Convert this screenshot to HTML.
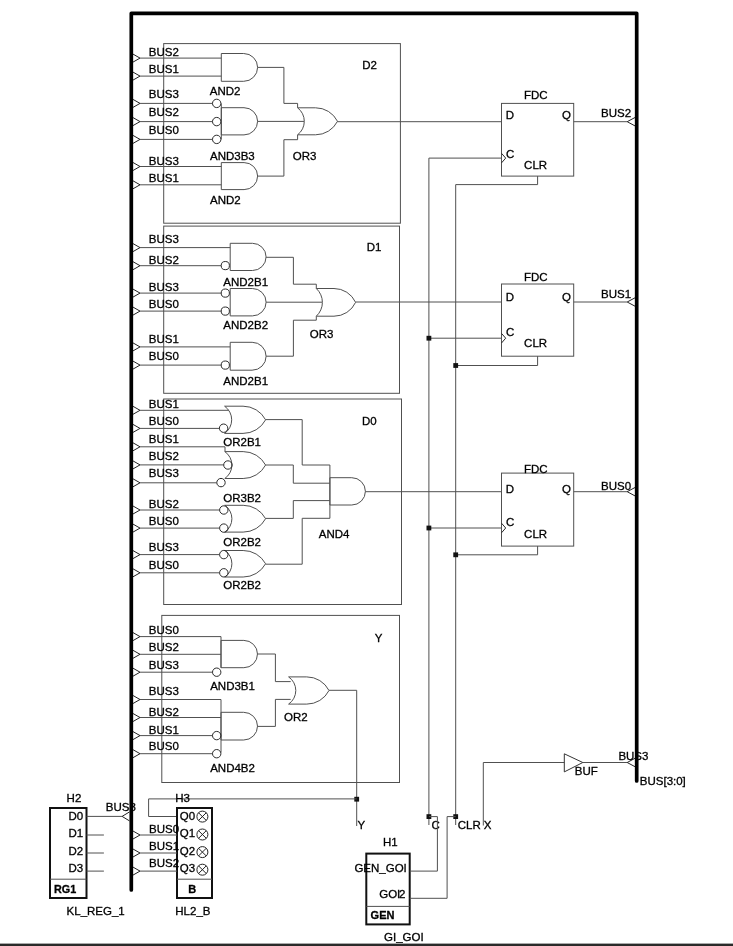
<!DOCTYPE html>
<html><head><meta charset="utf-8"><style>
html,body{margin:0;padding:0;background:#fff;}
body{width:733px;height:946px;overflow:hidden;}
svg{display:block;will-change:transform;}
text{font-family:"Liberation Sans", sans-serif;stroke:#000;stroke-width:0.3px;}
</style></head><body>
<svg width="733" height="946" viewBox="0 0 733 946">
<rect x="0" y="0" width="733" height="946" fill="#fff"/>
<path d="M131.3,890 L131.3,13.3 L636.7,13.3 L636.7,781" fill="none" stroke="#000" stroke-width="3.7" stroke-linecap="round" stroke-linejoin="round"/>
<rect x="163.70" y="43.60" width="236.70" height="179.60" fill="none" stroke="#505050" stroke-width="1.0"/>
<rect x="163.70" y="226.10" width="235.80" height="167.20" fill="none" stroke="#505050" stroke-width="1.0"/>
<rect x="163.70" y="399.00" width="237.80" height="205.50" fill="none" stroke="#505050" stroke-width="1.0"/>
<rect x="161.80" y="615.40" width="237.70" height="167.10" fill="none" stroke="#505050" stroke-width="1.0"/>
<text x="362.20" y="69.00" font-size="11.5" fill="#000">D2</text>
<text x="366.80" y="250.50" font-size="11.5" fill="#000">D1</text>
<text x="362.00" y="425.40" font-size="11.5" fill="#000">D0</text>
<text x="374.80" y="641.60" font-size="11.5" fill="#000">Y</text>
<path d="M133.00,54.10 L140.00,58.10 L133.00,62.10" fill="none" stroke="#222" stroke-width="1.0"/>
<path d="M140.00,58.10 L221.30,58.10" fill="none" stroke="#505050" stroke-width="1.0"/>
<text x="148.80" y="55.70" font-size="11.5" fill="#000">BUS2</text>
<path d="M133.00,72.10 L140.00,76.10 L133.00,80.10" fill="none" stroke="#222" stroke-width="1.0"/>
<path d="M140.00,76.10 L221.30,76.10" fill="none" stroke="#505050" stroke-width="1.0"/>
<text x="148.80" y="73.40" font-size="11.5" fill="#000">BUS1</text>
<path d="M133.00,99.40 L140.00,103.40 L133.00,107.40" fill="none" stroke="#222" stroke-width="1.0"/>
<path d="M140.00,103.40 L212.40,103.40" fill="none" stroke="#505050" stroke-width="1.0"/>
<text x="148.80" y="98.30" font-size="11.5" fill="#000">BUS3</text>
<path d="M133.00,117.60 L140.00,121.60 L133.00,125.60" fill="none" stroke="#222" stroke-width="1.0"/>
<path d="M140.00,121.60 L212.40,121.60" fill="none" stroke="#505050" stroke-width="1.0"/>
<text x="148.80" y="116.30" font-size="11.5" fill="#000">BUS2</text>
<path d="M133.00,135.40 L140.00,139.40 L133.00,143.40" fill="none" stroke="#222" stroke-width="1.0"/>
<path d="M140.00,139.40 L212.40,139.40" fill="none" stroke="#505050" stroke-width="1.0"/>
<text x="148.80" y="133.80" font-size="11.5" fill="#000">BUS0</text>
<path d="M133.00,162.50 L140.00,166.50 L133.00,170.50" fill="none" stroke="#222" stroke-width="1.0"/>
<path d="M140.00,166.50 L221.30,166.50" fill="none" stroke="#505050" stroke-width="1.0"/>
<text x="148.80" y="164.90" font-size="11.5" fill="#000">BUS3</text>
<path d="M133.00,180.80 L140.00,184.80 L133.00,188.80" fill="none" stroke="#222" stroke-width="1.0"/>
<path d="M140.00,184.80 L221.30,184.80" fill="none" stroke="#505050" stroke-width="1.0"/>
<text x="148.80" y="182.10" font-size="11.5" fill="#000">BUS1</text>
<path d="M221.30,53.50 L243.70,53.50 A13.90,13.90 0 0 1 243.70,81.30 L221.30,81.30 Z" fill="none" stroke="#505050" stroke-width="1.0"/>
<path d="M221.30,107.70 L244.00,107.70 A13.60,13.60 0 0 1 244.00,134.90 L221.30,134.90 Z" fill="none" stroke="#505050" stroke-width="1.0"/>
<circle cx="216.70" cy="103.40" r="4.20" fill="none" stroke="#2a2a2a" stroke-width="1.0"/>
<circle cx="216.70" cy="121.60" r="4.20" fill="none" stroke="#2a2a2a" stroke-width="1.0"/>
<circle cx="216.70" cy="139.40" r="4.20" fill="none" stroke="#2a2a2a" stroke-width="1.0"/>
<path d="M221.30,103.40 L221.30,139.40" fill="none" stroke="#505050" stroke-width="1.0"/>
<path d="M221.30,162.60 L244.10,162.60 A13.50,13.50 0 0 1 244.10,189.60 L221.30,189.60 Z" fill="none" stroke="#505050" stroke-width="1.0"/>
<text x="209.80" y="94.50" font-size="11.5" fill="#000">AND2</text>
<text x="210.00" y="160.00" font-size="11.5" fill="#000">AND3B3</text>
<text x="210.00" y="203.60" font-size="11.5" fill="#000">AND2</text>
<path d="M257.60,67.40 L283.90,67.40 L283.90,103.40 L297.60,103.40 L297.60,107.80" fill="none" stroke="#505050" stroke-width="1.0"/>
<path d="M257.60,121.40 L304.00,121.40" fill="none" stroke="#505050" stroke-width="1.0"/>
<path d="M257.60,176.10 L283.90,176.10 L283.90,139.70 L297.60,139.70 L297.60,134.80" fill="none" stroke="#505050" stroke-width="1.0"/>
<path d="M297.60,107.80 L315.56,107.80 A24.59,24.59 0 0 1 337.50,121.30 A24.59,24.59 0 0 1 315.56,134.80 L297.60,134.80 A16.95,16.95 0 0 0 297.60,107.80 Z" fill="none" stroke="#505050" stroke-width="1.0"/>
<text x="292.80" y="159.70" font-size="11.5" fill="#000">OR3</text>
<path d="M337.30,121.70 L501.50,121.70" fill="none" stroke="#505050" stroke-width="1.0"/>
<path d="M133.00,243.60 L140.00,247.60 L133.00,251.60" fill="none" stroke="#222" stroke-width="1.0"/>
<path d="M140.00,247.60 L230.20,247.60" fill="none" stroke="#505050" stroke-width="1.0"/>
<text x="148.80" y="243.00" font-size="11.5" fill="#000">BUS3</text>
<path d="M133.00,261.70 L140.00,265.70 L133.00,269.70" fill="none" stroke="#222" stroke-width="1.0"/>
<path d="M140.00,265.70 L221.20,265.70" fill="none" stroke="#505050" stroke-width="1.0"/>
<text x="148.80" y="263.70" font-size="11.5" fill="#000">BUS2</text>
<path d="M133.00,289.10 L140.00,293.10 L133.00,297.10" fill="none" stroke="#222" stroke-width="1.0"/>
<path d="M140.00,293.10 L221.20,293.10" fill="none" stroke="#505050" stroke-width="1.0"/>
<text x="148.80" y="290.70" font-size="11.5" fill="#000">BUS3</text>
<path d="M133.00,307.10 L140.00,311.10 L133.00,315.10" fill="none" stroke="#222" stroke-width="1.0"/>
<path d="M140.00,311.10 L221.20,311.10" fill="none" stroke="#505050" stroke-width="1.0"/>
<text x="148.80" y="307.70" font-size="11.5" fill="#000">BUS0</text>
<path d="M133.00,342.90 L140.00,346.90 L133.00,350.90" fill="none" stroke="#222" stroke-width="1.0"/>
<path d="M140.00,346.90 L230.20,346.90" fill="none" stroke="#505050" stroke-width="1.0"/>
<text x="148.80" y="342.80" font-size="11.5" fill="#000">BUS1</text>
<path d="M133.00,361.10 L140.00,365.10 L133.00,369.10" fill="none" stroke="#222" stroke-width="1.0"/>
<path d="M140.00,365.10 L221.20,365.10" fill="none" stroke="#505050" stroke-width="1.0"/>
<text x="148.80" y="360.00" font-size="11.5" fill="#000">BUS0</text>
<path d="M230.20,243.30 L252.50,243.30 A13.60,13.60 0 0 1 252.50,270.50 L230.20,270.50 Z" fill="none" stroke="#505050" stroke-width="1.0"/>
<circle cx="225.30" cy="265.60" r="4.10" fill="none" stroke="#2a2a2a" stroke-width="1.0"/>
<path d="M230.20,288.50 L252.40,288.50 A13.70,13.70 0 0 1 252.40,315.90 L230.20,315.90 Z" fill="none" stroke="#505050" stroke-width="1.0"/>
<circle cx="225.30" cy="293.10" r="4.10" fill="none" stroke="#2a2a2a" stroke-width="1.0"/>
<circle cx="225.30" cy="311.10" r="4.10" fill="none" stroke="#2a2a2a" stroke-width="1.0"/>
<path d="M230.20,342.30 L252.15,342.30 A13.95,13.95 0 0 1 252.15,370.20 L230.20,370.20 Z" fill="none" stroke="#505050" stroke-width="1.0"/>
<circle cx="225.30" cy="365.10" r="4.10" fill="none" stroke="#2a2a2a" stroke-width="1.0"/>
<text x="223.30" y="285.80" font-size="11.5" fill="#000">AND2B1</text>
<text x="223.30" y="329.00" font-size="11.5" fill="#000">AND2B2</text>
<text x="223.30" y="385.20" font-size="11.5" fill="#000">AND2B1</text>
<path d="M266.10,257.30 L293.40,257.30 L293.40,284.20 L316.30,284.20 L316.30,288.50" fill="none" stroke="#505050" stroke-width="1.0"/>
<path d="M266.10,302.20 L322.00,302.20" fill="none" stroke="#505050" stroke-width="1.0"/>
<path d="M266.10,356.20 L293.40,356.20 L293.40,320.20 L316.30,320.20 L316.30,316.20" fill="none" stroke="#505050" stroke-width="1.0"/>
<path d="M316.30,288.50 L333.99,288.50 A23.79,23.79 0 0 1 355.60,302.35 A23.79,23.79 0 0 1 333.99,316.20 L316.30,316.20 A18.77,18.77 0 0 0 316.30,288.50 Z" fill="none" stroke="#505050" stroke-width="1.0"/>
<text x="309.70" y="338.00" font-size="11.5" fill="#000">OR3</text>
<path d="M355.60,302.00 L501.50,302.00" fill="none" stroke="#505050" stroke-width="1.0"/>
<path d="M133.00,406.30 L140.00,410.30 L133.00,414.30" fill="none" stroke="#222" stroke-width="1.0"/>
<path d="M140.00,410.30 L228.50,410.30" fill="none" stroke="#505050" stroke-width="1.0"/>
<text x="148.80" y="407.70" font-size="11.5" fill="#000">BUS1</text>
<path d="M133.00,424.40 L140.00,428.40 L133.00,432.40" fill="none" stroke="#222" stroke-width="1.0"/>
<path d="M140.00,428.40 L219.40,428.40" fill="none" stroke="#505050" stroke-width="1.0"/>
<text x="148.80" y="424.70" font-size="11.5" fill="#000">BUS0</text>
<path d="M133.00,442.80 L140.00,446.80 L133.00,450.80" fill="none" stroke="#222" stroke-width="1.0"/>
<path d="M140.00,446.80 L225.00,446.80" fill="none" stroke="#505050" stroke-width="1.0"/>
<text x="148.80" y="442.50" font-size="11.5" fill="#000">BUS1</text>
<path d="M133.00,460.90 L140.00,464.90 L133.00,468.90" fill="none" stroke="#222" stroke-width="1.0"/>
<path d="M140.00,464.90 L223.60,464.90" fill="none" stroke="#505050" stroke-width="1.0"/>
<text x="148.80" y="459.50" font-size="11.5" fill="#000">BUS2</text>
<path d="M133.00,478.80 L140.00,482.80 L133.00,486.80" fill="none" stroke="#222" stroke-width="1.0"/>
<path d="M140.00,482.80 L216.70,482.80" fill="none" stroke="#505050" stroke-width="1.0"/>
<text x="148.80" y="476.50" font-size="11.5" fill="#000">BUS3</text>
<path d="M133.00,506.00 L140.00,510.00 L133.00,514.00" fill="none" stroke="#222" stroke-width="1.0"/>
<path d="M140.00,510.00 L219.40,510.00" fill="none" stroke="#505050" stroke-width="1.0"/>
<text x="148.80" y="507.90" font-size="11.5" fill="#000">BUS2</text>
<path d="M133.00,524.10 L140.00,528.10 L133.00,532.10" fill="none" stroke="#222" stroke-width="1.0"/>
<path d="M140.00,528.10 L219.40,528.10" fill="none" stroke="#505050" stroke-width="1.0"/>
<text x="148.80" y="524.50" font-size="11.5" fill="#000">BUS0</text>
<path d="M133.00,550.60 L140.00,554.60 L133.00,558.60" fill="none" stroke="#222" stroke-width="1.0"/>
<path d="M140.00,554.60 L219.40,554.60" fill="none" stroke="#505050" stroke-width="1.0"/>
<text x="148.80" y="551.30" font-size="11.5" fill="#000">BUS3</text>
<path d="M133.00,568.80 L140.00,572.80 L133.00,576.80" fill="none" stroke="#222" stroke-width="1.0"/>
<path d="M140.00,572.80 L219.40,572.80" fill="none" stroke="#505050" stroke-width="1.0"/>
<text x="148.80" y="568.60" font-size="11.5" fill="#000">BUS0</text>
<path d="M224.60,406.20 L243.05,406.20 A25.49,25.49 0 0 1 265.60,419.80 A25.49,25.49 0 0 1 243.05,433.40 L224.60,433.40 A16.58,16.58 0 0 0 224.60,406.20 Z" fill="none" stroke="#505050" stroke-width="1.0"/>
<circle cx="223.60" cy="428.20" r="4.20" fill="none" stroke="#2a2a2a" stroke-width="1.0"/>
<path d="M224.80,451.60 L243.16,451.60 A25.44,25.44 0 0 1 265.60,465.05 A25.44,25.44 0 0 1 243.16,478.50 L224.80,478.50 A16.29,16.29 0 0 0 224.80,451.60 Z" fill="none" stroke="#505050" stroke-width="1.0"/>
<path d="M225.00,446.80 L225.00,451.60" fill="none" stroke="#505050" stroke-width="1.0"/>
<circle cx="227.90" cy="465.00" r="4.20" fill="none" stroke="#2a2a2a" stroke-width="1.0"/>
<circle cx="221.00" cy="482.60" r="4.20" fill="none" stroke="#2a2a2a" stroke-width="1.0"/>
<path d="M224.80,505.30 L243.16,505.30 A25.49,25.49 0 0 1 265.60,518.70 A25.49,25.49 0 0 1 243.16,532.10 L224.80,532.10 A16.20,16.20 0 0 0 224.80,505.30 Z" fill="none" stroke="#505050" stroke-width="1.0"/>
<circle cx="223.80" cy="510.00" r="4.20" fill="none" stroke="#2a2a2a" stroke-width="1.0"/>
<circle cx="223.80" cy="528.10" r="4.20" fill="none" stroke="#2a2a2a" stroke-width="1.0"/>
<path d="M224.80,550.50 L243.16,550.50 A25.63,25.63 0 0 1 265.60,563.75 A25.63,25.63 0 0 1 243.16,577.00 L224.80,577.00 A15.91,15.91 0 0 0 224.80,550.50 Z" fill="none" stroke="#505050" stroke-width="1.0"/>
<circle cx="223.80" cy="554.60" r="4.20" fill="none" stroke="#2a2a2a" stroke-width="1.0"/>
<circle cx="223.80" cy="572.80" r="4.20" fill="none" stroke="#2a2a2a" stroke-width="1.0"/>
<text x="223.30" y="446.30" font-size="11.5" fill="#000">OR2B1</text>
<text x="223.30" y="502.40" font-size="11.5" fill="#000">OR3B2</text>
<text x="223.30" y="546.30" font-size="11.5" fill="#000">OR2B2</text>
<text x="223.30" y="589.30" font-size="11.5" fill="#000">OR2B2</text>
<path d="M265.60,419.60 L302.20,419.60 L302.20,465.00 L329.90,465.00" fill="none" stroke="#505050" stroke-width="1.0"/>
<path d="M265.60,465.00 L293.30,465.00 L293.30,483.20 L329.90,483.20" fill="none" stroke="#505050" stroke-width="1.0"/>
<path d="M265.60,518.40 L293.30,518.40 L293.30,500.60 L329.90,500.60" fill="none" stroke="#505050" stroke-width="1.0"/>
<path d="M265.60,564.20 L302.20,564.20 L302.20,518.30 L329.90,518.30" fill="none" stroke="#505050" stroke-width="1.0"/>
<path d="M329.90,465.00 L329.90,518.30" fill="none" stroke="#505050" stroke-width="1.0"/>
<path d="M329.90,477.70 L351.75,477.70 A13.65,13.65 0 0 1 351.75,505.00 L329.90,505.00 Z" fill="none" stroke="#505050" stroke-width="1.0"/>
<text x="318.80" y="537.60" font-size="11.5" fill="#000">AND4</text>
<path d="M365.40,491.70 L501.50,491.70" fill="none" stroke="#505050" stroke-width="1.0"/>
<path d="M133.00,632.60 L140.00,636.60 L133.00,640.60" fill="none" stroke="#222" stroke-width="1.0"/>
<path d="M140.00,636.60 L221.00,636.60" fill="none" stroke="#505050" stroke-width="1.0"/>
<text x="148.80" y="633.80" font-size="11.5" fill="#000">BUS0</text>
<path d="M133.00,650.30 L140.00,654.30 L133.00,658.30" fill="none" stroke="#222" stroke-width="1.0"/>
<path d="M140.00,654.30 L221.00,654.30" fill="none" stroke="#505050" stroke-width="1.0"/>
<text x="148.80" y="650.90" font-size="11.5" fill="#000">BUS2</text>
<path d="M133.00,668.20 L140.00,672.20 L133.00,676.20" fill="none" stroke="#222" stroke-width="1.0"/>
<path d="M140.00,672.20 L212.50,672.20" fill="none" stroke="#505050" stroke-width="1.0"/>
<text x="148.80" y="668.60" font-size="11.5" fill="#000">BUS3</text>
<path d="M133.00,695.50 L140.00,699.50 L133.00,703.50" fill="none" stroke="#222" stroke-width="1.0"/>
<path d="M140.00,699.50 L221.00,699.50" fill="none" stroke="#505050" stroke-width="1.0"/>
<text x="148.80" y="694.70" font-size="11.5" fill="#000">BUS3</text>
<path d="M133.00,713.50 L140.00,717.50 L133.00,721.50" fill="none" stroke="#222" stroke-width="1.0"/>
<path d="M140.00,717.50 L221.00,717.50" fill="none" stroke="#505050" stroke-width="1.0"/>
<text x="148.80" y="715.50" font-size="11.5" fill="#000">BUS2</text>
<path d="M133.00,731.60 L140.00,735.60 L133.00,739.60" fill="none" stroke="#222" stroke-width="1.0"/>
<path d="M140.00,735.60 L212.50,735.60" fill="none" stroke="#505050" stroke-width="1.0"/>
<text x="148.80" y="733.60" font-size="11.5" fill="#000">BUS1</text>
<path d="M133.00,749.70 L140.00,753.70 L133.00,757.70" fill="none" stroke="#222" stroke-width="1.0"/>
<path d="M140.00,753.70 L212.50,753.70" fill="none" stroke="#505050" stroke-width="1.0"/>
<text x="148.80" y="749.70" font-size="11.5" fill="#000">BUS0</text>
<path d="M221.00,640.40 L243.85,640.40 A13.65,13.65 0 0 1 243.85,667.70 L221.00,667.70 Z" fill="none" stroke="#505050" stroke-width="1.0"/>
<path d="M221.00,636.60 L221.00,667.80" fill="none" stroke="#505050" stroke-width="1.0"/>
<circle cx="216.70" cy="672.20" r="4.20" fill="none" stroke="#2a2a2a" stroke-width="1.0"/>
<path d="M221.00,712.30 L243.65,712.30 A13.85,13.85 0 0 1 243.65,740.00 L221.00,740.00 Z" fill="none" stroke="#505050" stroke-width="1.0"/>
<path d="M221.00,699.50 L221.00,752.50" fill="none" stroke="#505050" stroke-width="1.0"/>
<circle cx="216.70" cy="735.60" r="4.20" fill="none" stroke="#2a2a2a" stroke-width="1.0"/>
<circle cx="216.70" cy="753.70" r="4.20" fill="none" stroke="#2a2a2a" stroke-width="1.0"/>
<text x="210.20" y="689.50" font-size="11.5" fill="#000">AND3B1</text>
<text x="210.20" y="772.40" font-size="11.5" fill="#000">AND4B2</text>
<path d="M257.50,654.00 L275.40,654.00 L275.40,681.60 L290.70,681.60" fill="none" stroke="#505050" stroke-width="1.0"/>
<path d="M257.50,726.40 L275.40,726.40 L275.40,699.40 L290.70,699.40" fill="none" stroke="#505050" stroke-width="1.0"/>
<path d="M288.60,676.90 L306.78,676.90 A24.95,24.95 0 0 1 329.00,690.50 A24.95,24.95 0 0 1 306.78,704.10 L288.60,704.10 A16.44,16.44 0 0 0 288.60,676.90 Z" fill="none" stroke="#505050" stroke-width="1.0"/>
<text x="284.10" y="720.50" font-size="11.5" fill="#000">OR2</text>
<path d="M329.00,690.30 L356.70,690.30 L356.70,826.00" fill="none" stroke="#505050" stroke-width="1.0"/>
<rect x="501.50" y="103.40" width="72.20" height="72.70" fill="none" stroke="#505050" stroke-width="1.0"/>
<text x="523.90" y="98.60" font-size="11.5" fill="#000">FDC</text>
<text x="505.70" y="118.70" font-size="11.5" fill="#000">D</text>
<text x="562.00" y="118.70" font-size="11.5" fill="#000">Q</text>
<text x="505.90" y="157.70" font-size="11.5" fill="#000">C</text>
<text x="524.10" y="168.50" font-size="11.5" fill="#000">CLR</text>
<path d="M501.50,153.30 L505.70,158.10 L501.50,162.90" fill="none" stroke="#2a2a2a" stroke-width="1.0"/>
<path d="M537.60,176.10 L537.60,184.60" fill="none" stroke="#505050" stroke-width="1.0"/>
<rect x="501.50" y="284.00" width="72.20" height="72.20" fill="none" stroke="#505050" stroke-width="1.0"/>
<text x="523.90" y="281.40" font-size="11.5" fill="#000">FDC</text>
<text x="505.70" y="300.70" font-size="11.5" fill="#000">D</text>
<text x="562.00" y="300.70" font-size="11.5" fill="#000">Q</text>
<text x="505.90" y="335.70" font-size="11.5" fill="#000">C</text>
<text x="524.10" y="346.60" font-size="11.5" fill="#000">CLR</text>
<path d="M501.50,333.40 L505.70,338.20 L501.50,343.00" fill="none" stroke="#2a2a2a" stroke-width="1.0"/>
<path d="M537.60,356.20 L537.60,365.50" fill="none" stroke="#505050" stroke-width="1.0"/>
<rect x="501.50" y="473.10" width="72.20" height="73.00" fill="none" stroke="#505050" stroke-width="1.0"/>
<text x="523.90" y="472.50" font-size="11.5" fill="#000">FDC</text>
<text x="505.70" y="492.50" font-size="11.5" fill="#000">D</text>
<text x="562.00" y="492.50" font-size="11.5" fill="#000">Q</text>
<text x="505.90" y="526.20" font-size="11.5" fill="#000">C</text>
<text x="524.10" y="537.50" font-size="11.5" fill="#000">CLR</text>
<path d="M501.50,523.20 L505.70,528.00 L501.50,532.80" fill="none" stroke="#2a2a2a" stroke-width="1.0"/>
<path d="M537.60,546.10 L537.60,554.80" fill="none" stroke="#505050" stroke-width="1.0"/>
<path d="M501.50,158.10 L428.90,158.10 L428.90,816.60" fill="none" stroke="#505050" stroke-width="1.0"/>
<path d="M428.90,338.20 L501.50,338.20" fill="none" stroke="#505050" stroke-width="1.0"/>
<path d="M428.90,528.00 L501.50,528.00" fill="none" stroke="#505050" stroke-width="1.0"/>
<path d="M537.60,184.60 L455.70,184.60 L455.70,816.60" fill="none" stroke="#505050" stroke-width="1.0"/>
<path d="M537.60,365.50 L455.70,365.50" fill="none" stroke="#505050" stroke-width="1.0"/>
<path d="M537.60,554.80 L455.70,554.80" fill="none" stroke="#505050" stroke-width="1.0"/>
<rect x="426.50" y="335.80" width="4.8" height="4.8" fill="#111"/>
<rect x="453.30" y="363.10" width="4.8" height="4.8" fill="#111"/>
<rect x="426.50" y="525.60" width="4.8" height="4.8" fill="#111"/>
<rect x="453.30" y="552.40" width="4.8" height="4.8" fill="#111"/>
<path d="M635.00,117.50 L627.20,121.70 L635.00,125.90" fill="none" stroke="#222" stroke-width="1.0"/>
<path d="M573.70,121.70 L627.00,121.70" fill="none" stroke="#505050" stroke-width="1.0"/>
<text x="601.00" y="116.80" font-size="11.5" fill="#000">BUS2</text>
<path d="M635.00,297.80 L627.20,302.00 L635.00,306.20" fill="none" stroke="#222" stroke-width="1.0"/>
<path d="M573.70,302.00 L627.00,302.00" fill="none" stroke="#505050" stroke-width="1.0"/>
<text x="601.00" y="298.40" font-size="11.5" fill="#000">BUS1</text>
<path d="M635.00,487.50 L627.20,491.70 L635.00,495.90" fill="none" stroke="#222" stroke-width="1.0"/>
<path d="M573.70,491.70 L627.00,491.70" fill="none" stroke="#505050" stroke-width="1.0"/>
<text x="601.00" y="489.50" font-size="11.5" fill="#000">BUS0</text>
<path d="M428.90,816.60 L428.90,825.00" fill="none" stroke="#505050" stroke-width="1.0"/>
<path d="M455.70,816.60 L455.70,825.00" fill="none" stroke="#505050" stroke-width="1.0"/>
<rect x="426.50" y="814.20" width="4.8" height="4.8" fill="#111"/>
<rect x="453.30" y="814.20" width="4.8" height="4.8" fill="#111"/>
<rect x="354.30" y="796.80" width="4.8" height="4.8" fill="#111"/>
<text x="357.40" y="828.60" font-size="11.5" fill="#000">Y</text>
<text x="431.60" y="828.60" font-size="11.5" fill="#000">C</text>
<text x="457.80" y="828.60" font-size="11.5" fill="#000">CLR</text>
<text x="483.70" y="828.60" font-size="11.5" fill="#000">X</text>
<path d="M483.30,825.50 L483.30,762.50 L564.30,762.50" fill="none" stroke="#505050" stroke-width="1.0"/>
<path d="M564.3,753.8 L582.8,762.5 L564.3,771.9 Z" fill="none" stroke="#333" stroke-width="1"/>
<path d="M635.00,758.30 L627.20,762.50 L635.00,766.70" fill="none" stroke="#222" stroke-width="1.0"/>
<path d="M582.80,762.50 L627.00,762.50" fill="none" stroke="#505050" stroke-width="1.0"/>
<text x="574.80" y="774.80" font-size="11.5" fill="#000">BUF</text>
<text x="618.40" y="759.70" font-size="11.5" fill="#000">BUS3</text>
<text x="639.80" y="785.30" font-size="11.5" fill="#000">BUS[3:0]</text>
<rect x="366.3" y="853.6" width="43.4" height="70.8" fill="none" stroke="#111" stroke-width="2"/>
<path d="M366.30,906.40 L409.70,906.40" fill="none" stroke="#505050" stroke-width="1.0"/>
<text x="370.60" y="918.70" font-size="11" font-weight="bold" fill="#000">GEN</text>
<text x="354.40" y="871.60" font-size="11.5" fill="#000">GEN_GOI</text>
<text x="379.20" y="897.80" font-size="11.5" fill="#000">GOI</text>
<text x="399.00" y="897.80" font-size="11.5" fill="#000">2</text>
<text x="383.00" y="845.60" font-size="11.5" fill="#000">H1</text>
<text x="384.00" y="940.70" font-size="11.5" fill="#000">GI_GOI</text>
<path d="M409.70,871.10 L437.40,871.10 L437.40,816.60 L428.90,816.60" fill="none" stroke="#505050" stroke-width="1.0"/>
<path d="M409.70,898.30 L447.10,898.30 L447.10,816.60 L455.70,816.60" fill="none" stroke="#505050" stroke-width="1.0"/>
<path d="M148.60,816.50 L148.60,798.90 L356.70,798.90" fill="none" stroke="#505050" stroke-width="1.0"/>
<path d="M148.60,816.50 L177.00,816.50" fill="none" stroke="#505050" stroke-width="1.0"/>
<rect x="50" y="808" width="36.5" height="90" fill="none" stroke="#111" stroke-width="2"/>
<path d="M50.00,879.20 L86.50,879.20" fill="none" stroke="#505050" stroke-width="1.0"/>
<text x="54.00" y="892.70" font-size="10.8" font-weight="bold" fill="#000">RG1</text>
<text x="83.20" y="819.80" font-size="11.5" text-anchor="end" fill="#000">D0</text>
<text x="83.20" y="836.80" font-size="11.5" text-anchor="end" fill="#000">D1</text>
<text x="83.20" y="854.50" font-size="11.5" text-anchor="end" fill="#000">D2</text>
<text x="83.20" y="871.50" font-size="11.5" text-anchor="end" fill="#000">D3</text>
<path d="M86.50,835.00 L103.90,835.00" fill="none" stroke="#505050" stroke-width="1.0"/>
<path d="M86.50,853.00 L103.90,853.00" fill="none" stroke="#505050" stroke-width="1.0"/>
<path d="M86.50,871.10 L103.90,871.10" fill="none" stroke="#505050" stroke-width="1.0"/>
<path d="M86.50,816.40 L122.10,816.40" fill="none" stroke="#505050" stroke-width="1.0"/>
<path d="M129.50,811.90 L122.10,816.40 L129.50,820.90" fill="none" stroke="#222" stroke-width="1.0"/>
<text x="66.60" y="801.60" font-size="11.5" fill="#000">H2</text>
<text x="105.80" y="811.00" font-size="11.5" fill="#000">BUS3</text>
<text x="66.60" y="915.00" font-size="11.5" fill="#000">KL_REG_1</text>
<rect x="177" y="808" width="35" height="90" fill="none" stroke="#111" stroke-width="2"/>
<path d="M177.00,879.20 L212.00,879.20" fill="none" stroke="#505050" stroke-width="1.0"/>
<text x="188.30" y="892.70" font-size="11" font-weight="bold" fill="#000">B</text>
<text x="179.70" y="819.80" font-size="11.5" fill="#000">Q0</text>
<circle cx="202.40" cy="816.60" r="5.50" fill="none" stroke="#222" stroke-width="1.0"/>
<path d="M198.51,812.71 L206.29,820.49" fill="none" stroke="#222" stroke-width="1.0"/>
<path d="M198.51,820.49 L206.29,812.71" fill="none" stroke="#222" stroke-width="1.0"/>
<text x="179.70" y="837.40" font-size="11.5" fill="#000">Q1</text>
<circle cx="202.40" cy="834.50" r="5.50" fill="none" stroke="#222" stroke-width="1.0"/>
<path d="M198.51,830.61 L206.29,838.39" fill="none" stroke="#222" stroke-width="1.0"/>
<path d="M198.51,838.39 L206.29,830.61" fill="none" stroke="#222" stroke-width="1.0"/>
<text x="179.70" y="855.10" font-size="11.5" fill="#000">Q2</text>
<circle cx="202.40" cy="852.10" r="5.50" fill="none" stroke="#222" stroke-width="1.0"/>
<path d="M198.51,848.21 L206.29,855.99" fill="none" stroke="#222" stroke-width="1.0"/>
<path d="M198.51,855.99 L206.29,848.21" fill="none" stroke="#222" stroke-width="1.0"/>
<text x="179.70" y="872.10" font-size="11.5" fill="#000">Q3</text>
<circle cx="202.40" cy="869.70" r="5.50" fill="none" stroke="#222" stroke-width="1.0"/>
<path d="M198.51,865.81 L206.29,873.59" fill="none" stroke="#222" stroke-width="1.0"/>
<path d="M198.51,873.59 L206.29,865.81" fill="none" stroke="#222" stroke-width="1.0"/>
<path d="M133.00,831.00 L140.00,835.00 L133.00,839.00" fill="none" stroke="#222" stroke-width="1.0"/>
<path d="M140.00,835.00 L177.00,835.00" fill="none" stroke="#505050" stroke-width="1.0"/>
<text x="149.10" y="832.60" font-size="11.5" fill="#000">BUS0</text>
<path d="M133.00,849.00 L140.00,853.00 L133.00,857.00" fill="none" stroke="#222" stroke-width="1.0"/>
<path d="M140.00,853.00 L177.00,853.00" fill="none" stroke="#505050" stroke-width="1.0"/>
<text x="149.10" y="849.60" font-size="11.5" fill="#000">BUS1</text>
<path d="M133.00,867.10 L140.00,871.10 L133.00,875.10" fill="none" stroke="#222" stroke-width="1.0"/>
<path d="M140.00,871.10 L177.00,871.10" fill="none" stroke="#505050" stroke-width="1.0"/>
<text x="149.10" y="867.10" font-size="11.5" fill="#000">BUS2</text>
<text x="175.30" y="801.60" font-size="11.5" fill="#000">H3</text>
<text x="175.30" y="915.00" font-size="11.5" fill="#000">HL2_B</text>
<rect x="0" y="943.6" width="733" height="2.4" fill="#2a2a2a"/>
</svg>
</body></html>
